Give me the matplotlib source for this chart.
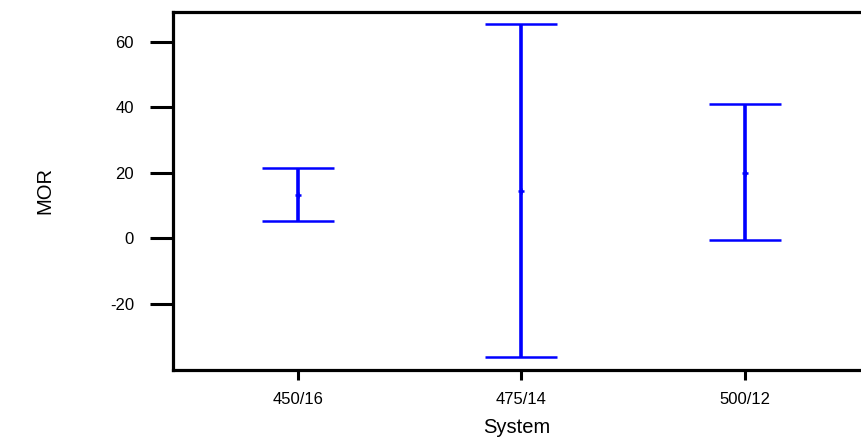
import matplotlib
matplotlib.use("Agg")
import matplotlib.pyplot as plt
import numpy as np

plt.rcParams['font.family'] = ['Liberation Sans', 'DejaVu Sans']
plt.rcParams['axes.unicode_minus'] = False

systems = ["450/16", "475/14", "500/12"]
mor_mean = [13.2, 14.5, 19.8]
mor_lower = [5.3, -36.3, -0.5]
mor_upper = [21.5, 65.2, 40.9]
y_ticks = [-20, 0, 20, 40, 60]

fig = plt.figure(figsize=(8.61, 4.41), dpi=100)
ax = fig.add_axes([0.2015, 0.162, 0.7985, 0.8108])

x = np.arange(len(systems))
mean = np.array(mor_mean)
err = np.vstack([mean - np.array(mor_lower), np.array(mor_upper) - mean])
ax.errorbar(x, mean, yerr=err, fmt='+', color='#0000ff', ecolor='#0000ff',
            elinewidth=2.6, capsize=26, capthick=2.6, markersize=5,
            markeredgewidth=1.8, linestyle='none')

ax.set_xlim(-0.555, 2.52)
ax.set_ylim(-40, 69)
ax.set_xticks(x)
ax.set_xticklabels(systems)
ax.set_yticks(y_ticks)

for side in ('left', 'bottom', 'top'):
    ax.spines[side].set_linewidth(2.3)
    ax.spines[side].set_color('black')
ax.spines['right'].set_visible(False)

ax.tick_params(axis='y', length=16.5, width=2.2, pad=12, labelsize=12)
ax.tick_params(axis='x', length=7, width=2.2, pad=9, labelsize=12)

ax.set_xlabel("System", fontsize=14.5, labelpad=8)
ax.set_ylabel("MOR", fontsize=14.5, labelpad=40)

fig.savefig("out.png", dpi=100)
